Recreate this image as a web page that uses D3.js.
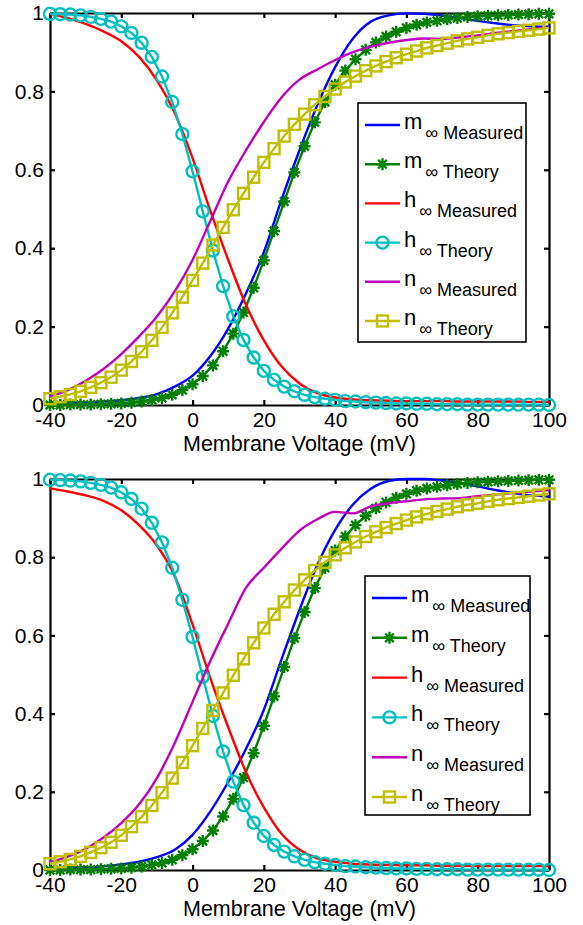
<html>
<head>
<meta charset="utf-8">
<title>Gating variables</title>
<script src="https://d3js.org/d3.v7.min.js"></script>
<style>
  body { margin: 0; background: #fff; }
  text { font-family: "Liberation Sans", Arial, sans-serif; }
</style>
</head>
<body>
<svg width="583" height="925"></svg>
<script>
// voltages (mV) of the theory samples
var theoryV = [-40, -37.14, -34.29, -31.43, -28.57, -25.71, -22.86, -20, -17.14, -14.29,
  -11.43, -8.57, -5.71, -2.86, 0, 2.86, 5.71, 8.57, 11.43, 14.29,
  17.14, 20, 22.86, 25.71, 28.57, 31.43, 34.29, 37.14, 40, 42.86,
  45.71, 48.57, 51.43, 54.29, 57.14, 60, 62.86, 65.71, 68.57, 71.43,
  74.29, 77.14, 80, 82.86, 85.71, 88.57, 91.43, 94.29, 97.14, 100];

var mTheory = [0.000, 0.000, 0.001, 0.001, 0.001, 0.002, 0.003, 0.004, 0.006, 0.009,
  0.013, 0.018, 0.026, 0.038, 0.053, 0.074, 0.101, 0.137, 0.182, 0.236,
  0.299, 0.369, 0.444, 0.519, 0.593, 0.660, 0.721, 0.773, 0.817, 0.853,
  0.882, 0.906, 0.925, 0.940, 0.952, 0.962, 0.970, 0.976, 0.980, 0.984,
  0.987, 0.990, 0.992, 0.993, 0.994, 0.995, 0.996, 0.997, 0.998, 0.998];

var hTheory = [0.998, 0.997, 0.996, 0.994, 0.990, 0.985, 0.978, 0.966, 0.949, 0.924,
  0.888, 0.838, 0.773, 0.691, 0.596, 0.494, 0.394, 0.303, 0.226, 0.166,
  0.121, 0.087, 0.064, 0.047, 0.035, 0.026, 0.020, 0.016, 0.013, 0.010,
  0.009, 0.007, 0.006, 0.005, 0.004, 0.004, 0.003, 0.003, 0.002, 0.002,
  0.002, 0.001, 0.001, 0.001, 0.001, 0.001, 0.001, 0.001, 0.001, 0.000];

var nTheory = [0.016, 0.021, 0.027, 0.035, 0.045, 0.057, 0.071, 0.089, 0.111, 0.136,
  0.165, 0.198, 0.235, 0.275, 0.318, 0.362, 0.408, 0.453, 0.498, 0.540,
  0.581, 0.619, 0.654, 0.686, 0.716, 0.742, 0.766, 0.787, 0.806, 0.824,
  0.839, 0.853, 0.865, 0.876, 0.886, 0.895, 0.903, 0.911, 0.917, 0.923,
  0.929, 0.934, 0.938, 0.943, 0.947, 0.950, 0.953, 0.956, 0.959, 0.962];

// voltages (mV) of the measured curves
var measV = [-40, -35, -30, -25, -20, -15, -10, -5, 0, 5, 10, 15, 20, 25, 30,
  35, 40, 45, 50, 55, 60, 65, 70, 75, 80, 85, 90, 95, 100];

// top panel
var mMeasTop = [0.004, 0.005, 0.007, 0.009, 0.012, 0.018, 0.028, 0.047, 0.075, 0.125, 0.195, 0.285, 0.39, 0.525, 0.65,
  0.765, 0.862, 0.935, 0.978, 0.994, 0.999, 0.998, 0.993, 0.987, 0.98, 0.974, 0.969, 0.966, 0.965];
var hMeasTop = [0.998, 0.987, 0.972, 0.953, 0.928, 0.888, 0.828, 0.745, 0.63, 0.495, 0.37, 0.255, 0.165, 0.098, 0.055,
  0.03, 0.019, 0.014, 0.012, 0.011, 0.01, 0.01, 0.01, 0.009, 0.009, 0.009, 0.009, 0.008, 0.008];
var nMeasTop = [0.022, 0.038, 0.062, 0.092, 0.13, 0.175, 0.226, 0.29, 0.37, 0.47, 0.57, 0.65, 0.722, 0.785, 0.83,
  0.856, 0.88, 0.9, 0.914, 0.924, 0.931, 0.935, 0.934, 0.938, 0.943, 0.949, 0.954, 0.959, 0.963];

// bottom panel
var mMeasBot = [0.004, 0.005, 0.007, 0.01, 0.014, 0.021, 0.033, 0.052, 0.09, 0.15, 0.225, 0.31, 0.41, 0.54, 0.665,
  0.78, 0.87, 0.935, 0.975, 0.995, 1.0, 1.0, 0.996, 0.99, 0.981, 0.972, 0.964, 0.958, 0.955];
var hMeasBot = [0.976, 0.968, 0.958, 0.944, 0.92, 0.882, 0.83, 0.752, 0.628, 0.49, 0.365, 0.25, 0.16, 0.092, 0.052,
  0.03, 0.021, 0.016, 0.014, 0.013, 0.012, 0.012, 0.011, 0.011, 0.01, 0.01, 0.01, 0.01, 0.01];
var nMeasBot = [0.02, 0.034, 0.054, 0.083, 0.12, 0.168, 0.235, 0.325, 0.43, 0.535, 0.63, 0.722, 0.773, 0.822, 0.868,
  0.897, 0.916, 0.912, 0.93, 0.938, 0.943, 0.948, 0.95, 0.951, 0.956, 0.96, 0.964, 0.968, 0.972];

var xTicks = [-40, -20, 0, 20, 40, 60, 80, 100];
var xTickLabels = ["-40", "-20", "0", "20", "40", "60", "80", "100"];
var yTicks = [0, 0.2, 0.4, 0.6, 0.8, 1];
var yTickLabels = ["0", "0.2", "0.4", "0.6", "0.8", "1"];
var legendNames = [["m", "Measured"], ["m", "Theory"], ["h", "Measured"], ["h", "Theory"], ["n", "Measured"], ["n", "Theory"]];

var colors = {m: "#0000ff", mt: "#008000", h: "#ff0000", ht: "#00bfbf", n: "#bf00bf", nt: "#bfbf00"};
var lw = 2.4;

var svg = d3.select("svg");

var xScale = d3.scaleLinear().domain([-40, 100]).range([50, 549]);

function drawMarker(sel, kind, color) {
  if (kind == "star") {
    sel.append("path")
      .attr("d", "M-6,0H6M0,-6V6M-4.3,-4.3L4.3,4.3M-4.3,4.3L4.3,-4.3")
      .attr("stroke", color).attr("stroke-width", lw).attr("fill", "none");
  } else if (kind == "circle") {
    sel.append("circle").attr("r", 6)
      .attr("stroke", color).attr("stroke-width", lw).attr("fill", "none");
  } else if (kind == "square") {
    sel.append("rect").attr("x", -5.5).attr("y", -5.5).attr("width", 11).attr("height", 11)
      .attr("stroke", color).attr("stroke-width", lw).attr("fill", "none");
  }
}

function drawPanel(y0, y1, meas, leg) {
  var yScale = d3.scaleLinear().domain([0, 1]).range([y0, y1]);
  var g = svg.append("g");

  // axes box with inward ticks
  var fmtX = (d, i) => xTickLabels[i];
  var fmtY = (d, i) => yTickLabels[i];
  g.append("g").attr("transform", `translate(0,${y0})`)
    .call(d3.axisBottom(xScale).tickValues(xTicks).tickFormat(fmtX).tickSizeInner(-5).tickSizeOuter(0).tickPadding(7));
  g.append("g").attr("transform", `translate(0,${y1})`)
    .call(d3.axisTop(xScale).tickValues(xTicks).tickFormat("").tickSizeInner(-5).tickSizeOuter(0));
  g.append("g").attr("transform", `translate(50,0)`)
    .call(d3.axisLeft(yScale).tickValues(yTicks).tickFormat(fmtY).tickSizeInner(-5).tickSizeOuter(0).tickPadding(6));
  g.append("g").attr("transform", `translate(549,0)`)
    .call(d3.axisRight(yScale).tickValues(yTicks).tickFormat("").tickSizeInner(-5).tickSizeOuter(0));
  g.selectAll(".domain").attr("stroke", "#000").attr("stroke-width", 2.2);
  g.selectAll(".tick line").attr("stroke", "#000").attr("stroke-width", 2.2);
  g.selectAll(".tick text").attr("font-size", 21).attr("fill", "#000")
    .style("font-family", '"Liberation Sans", Arial, sans-serif');

  g.append("text")
    .attr("x", 299.5).attr("y", y0 + 46)
    .attr("text-anchor", "middle").attr("font-size", 21.5)
    .text("Membrane Voltage (mV)");

  var line = d3.line().x(d => xScale(d[0])).y(d => yScale(d[1]));
  var smooth = d3.line().x(d => xScale(d[0])).y(d => yScale(d[1])).curve(d3.curveMonotoneX);

  var series = [
    {vals: meas[0], v: measV, color: colors.m, marker: null},
    {vals: mTheory, v: theoryV, color: colors.mt, marker: "star"},
    {vals: meas[1], v: measV, color: colors.h, marker: null},
    {vals: hTheory, v: theoryV, color: colors.ht, marker: "circle"},
    {vals: meas[2], v: measV, color: colors.n, marker: null},
    {vals: nTheory, v: theoryV, color: colors.nt, marker: "square"}
  ];

  series.forEach(function(s) {
    var pts = s.v.map((v, i) => [v, s.vals[i]]);
    g.append("path")
      .attr("d", s.marker ? line(pts) : smooth(pts))
      .attr("fill", "none").attr("stroke", s.color).attr("stroke-width", lw);
    if (s.marker) {
      g.selectAll(null).data(pts).enter().append("g")
        .attr("transform", d => `translate(${xScale(d[0])},${yScale(d[1])})`)
        .each(function() { drawMarker(d3.select(this), s.marker, s.color); });
    }
  });

  // legend
  var lg = g.append("g");
  lg.append("rect")
    .attr("x", leg.x).attr("y", leg.y).attr("width", leg.w).attr("height", leg.h)
    .attr("fill", "#fff").attr("stroke", "#000").attr("stroke-width", 1.6);
  series.forEach(function(s, i) {
    var ly = leg.y + 22 + i * leg.step;
    var x0 = leg.x + 7;
    lg.append("line").attr("x1", x0).attr("x2", x0 + 35).attr("y1", ly).attr("y2", ly)
      .attr("stroke", s.color).attr("stroke-width", lw);
    if (s.marker) {
      var mg = lg.append("g").attr("transform", `translate(${x0 + 17.5},${ly})`);
      drawMarker(mg, s.marker, s.color);
    }
    var t = lg.append("text").attr("x", x0 + 39).attr("y", ly + 4).attr("font-size", 22);
    t.append("tspan").text(legendNames[i][0]);
    t.append("tspan").attr("dx", 3).attr("dy", 10).attr("font-size", 18)
      .text("\u221e " + legendNames[i][1]);
  });
}

drawPanel(405, 13, [mMeasTop, hMeasTop, nMeasTop], {x: 358, y: 103, w: 168, h: 239, step: 39.2});
drawPanel(870, 479, [mMeasBot, hMeasBot, nMeasBot], {x: 365, y: 576, w: 165, h: 239, step: 39.8});
</script>
</body>
</html>
